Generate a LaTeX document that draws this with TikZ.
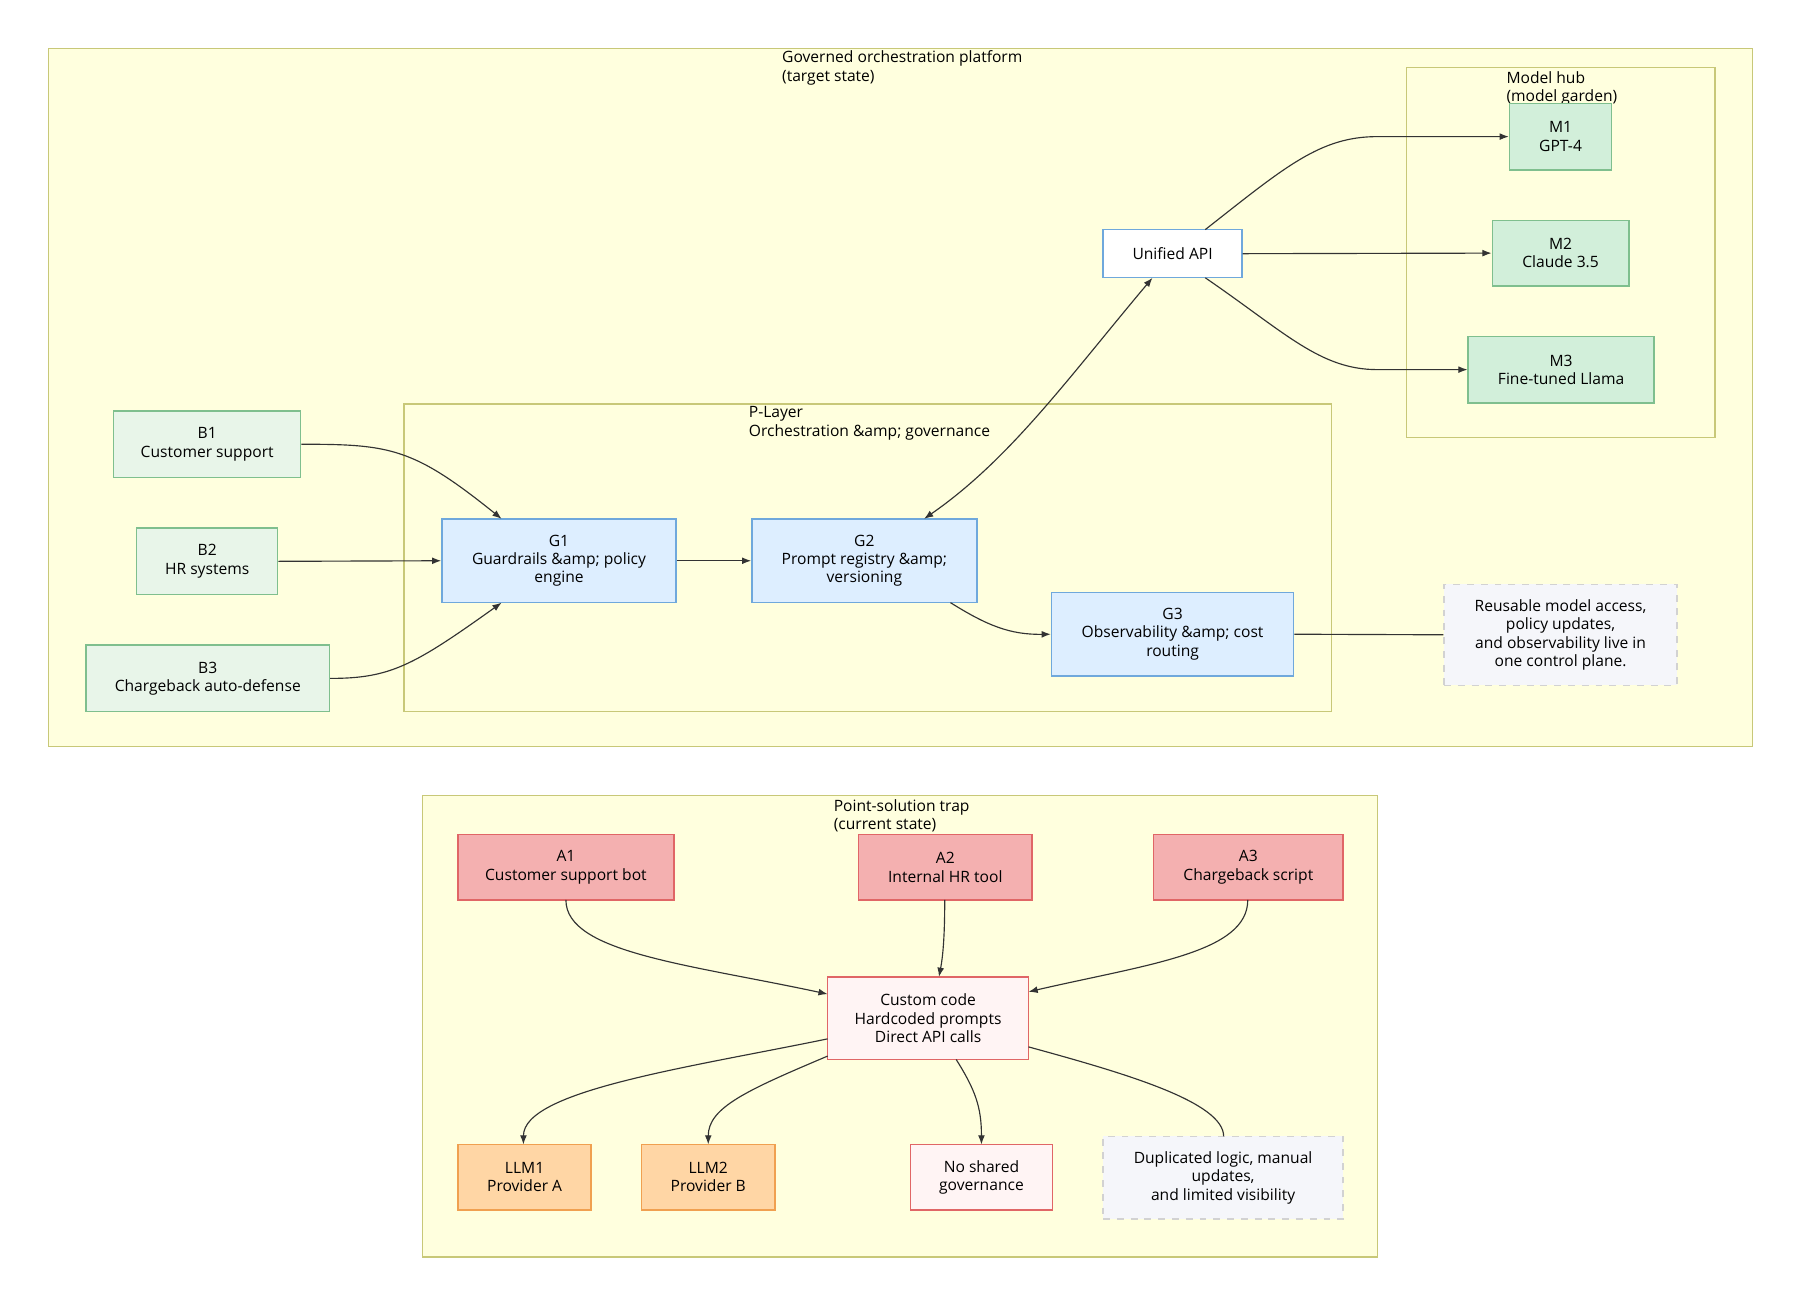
\documentclass[tikz,border=0pt]{standalone}
\usepackage{fontspec}
\setmainfont{Open Sans}
\usetikzlibrary{arrows.meta}
\definecolor{grpfill}{HTML}{FFFFDE}
\definecolor{grpdraw}{HTML}{C8C878}
\definecolor{gfill}{HTML}{E8F5E9}
\definecolor{mfill}{HTML}{D2EFDA}
\definecolor{gdraw}{HTML}{7FBF8E}
\definecolor{bfill}{HTML}{DDEEFF}
\definecolor{bdraw}{HTML}{6FA8DC}
\definecolor{rfill}{HTML}{F4B0B0}
\definecolor{rdraw}{HTML}{E06666}
\definecolor{pfill}{HTML}{FFF4F4}
\definecolor{ofill}{HTML}{FFD6A5}
\definecolor{odraw}{HTML}{F0A050}
\definecolor{nfill}{HTML}{F5F6FA}
\tikzset{
 grp/.style={draw=grpdraw,fill=grpfill,line width=0.5pt},
 box/.style={draw,line width=0.6pt,align=center,font=\fontsize{6.8}{8}\selectfont,inner sep=0},
 green/.style={box,fill=gfill,draw=gdraw},
 mgreen/.style={box,fill=mfill,draw=gdraw},
 blue/.style={box,fill=bfill,draw=bdraw},
 red/.style={box,fill=rfill,draw=rdraw},
 pale/.style={box,fill=pfill,draw=rdraw},
 orange/.style={box,fill=ofill,draw=odraw},
 note/.style={box,fill=nfill,draw=gray!35,dashed},
 ttl/.style={align=left,anchor=north west,font=\fontsize{6.8}{8}\selectfont,inner sep=0},
 e/.style={draw=black!80,line width=0.5pt,-{Latex[length=4pt,width=3pt]}},
 ln/.style={draw=black!80,line width=0.5pt}
}
\newcommand{\bx}[5]{\node[#1,minimum width={(#4-#2)*0.5pt},minimum height={(#5-#3)*0.5pt}] at ({(#2+#4)/2},{(#3+#5)/2})}
\begin{document}
\begin{tikzpicture}[x=0.5pt,y=-0.5pt]
\useasboundingbox (0,0) rectangle (1562,1130);
\fill[white] (0,0) rectangle (1562,1130);
\draw[grp] (42,42) rectangle (1527,650);
\node[ttl] at (681,44) {Governed orchestration platform\\(target state)};
\draw[grp] (1225,59) rectangle (1494,381);
\node[ttl] at (1312,62) {Model hub\\(model garden)};
\draw[grp] (352,352) rectangle (1160,620);
\node[ttl] at (652,354) {P-Layer\\Orchestration \&amp; governance};
\draw[grp] (368,693) rectangle (1200,1095);
\node[ttl] at (726,696) {Point-solution trap\\(current state)};

\bx{mgreen}{1315}{90}{1404}{148} (m1) {M1\\GPT-4};
\bx{mgreen}{1300}{192}{1419}{249} (m2) {M2\\Claude 3.5};
\bx{mgreen}{1279}{293}{1441}{351} (m3) {M3\\Fine-tuned Llama};
\bx{box,fill=white,draw=bdraw}{961}{200}{1082}{242} (api) {Unified API};
\bx{green}{99}{358}{262}{416} (b1) {B1\\Customer support};
\bx{green}{119}{460}{242}{518} (b2) {B2\\HR systems};
\bx{green}{75}{562}{287}{620} (b3) {B3\\Chargeback auto-defense};
\bx{blue}{385}{452}{589}{525} (g1) {G1\\Guardrails \&amp; policy\\engine};
\bx{blue}{655}{452}{851}{525} (g2) {G2\\Prompt registry \&amp;\\versioning};
\bx{blue}{916}{516}{1127}{589} (g3) {G3\\Observability \&amp; cost\\routing};
\bx{note}{1258}{509}{1461}{597} (n1) {Reusable model access,\\policy updates,\\and observability live in\\one control plane.};
\bx{red}{399}{727}{587}{784} (a1) {A1\\Customer support bot};
\bx{red}{748}{727}{899}{784} (a2) {A2\\Internal HR tool};
\bx{red}{1005}{727}{1170}{784} (a3) {A3\\Chargeback script};
\bx{pale}{721}{851}{896}{923} (cc) {Custom code\\Hardcoded prompts\\Direct API calls};
\bx{orange}{399}{997}{515}{1054} (l1) {LLM1\\Provider A};
\bx{orange}{559}{997}{675}{1054} (l2) {LLM2\\Provider B};
\bx{pale}{793}{997}{917}{1054} (ns) {No shared\\governance};
\bx{note}{961}{990}{1170}{1062} (n2) {Duplicated logic, manual\\updates,\\and limited visibility};

\draw[e] (b1.east) .. controls (340,387) and (360,390) .. (437,452);
\draw[e] (b2.east) -- (g1.west);
\draw[e] (b3.east) .. controls (340,591) and (360,580) .. (437,525);
\draw[e] (g1.east) -- (g2.west);
\draw[e,{Latex[length=4pt,width=3pt]}-{Latex[length=4pt,width=3pt]}] (805,452) .. controls (880,400) and (930,330) .. (1004,242);
\draw[e] (828,525) .. controls (860,545) and (880,553) .. (g3.west);
\draw[e] (1050,200) .. controls (1120,145) and (1150,119) .. (1200,119) -- (m1.west);
\draw[e] (api.east) -- (m2.west);
\draw[e] (1050,242) .. controls (1120,290) and (1150,322) .. (1200,322) -- (m3.west);
\draw[ln] (g3.east) -- (n1.west);
\draw[e] (493,784) .. controls (493,830) and (600,840) .. (721,866);
\draw[e] (823,784) .. controls (823,810) and (822,830) .. (818,851);
\draw[e] (1087,784) .. controls (1087,830) and (1000,840) .. (896,864);
\draw[e] (721,905) .. controls (600,930) and (456,950) .. (456,997);
\draw[e] (721,920) .. controls (650,950) and (617,965) .. (617,997);
\draw[e] (833,923) .. controls (850,950) and (855,965) .. (855,997);
\draw[ln] (896,912) .. controls (980,935) and (1066,960) .. (1066,990);
\end{tikzpicture}
\end{document}
